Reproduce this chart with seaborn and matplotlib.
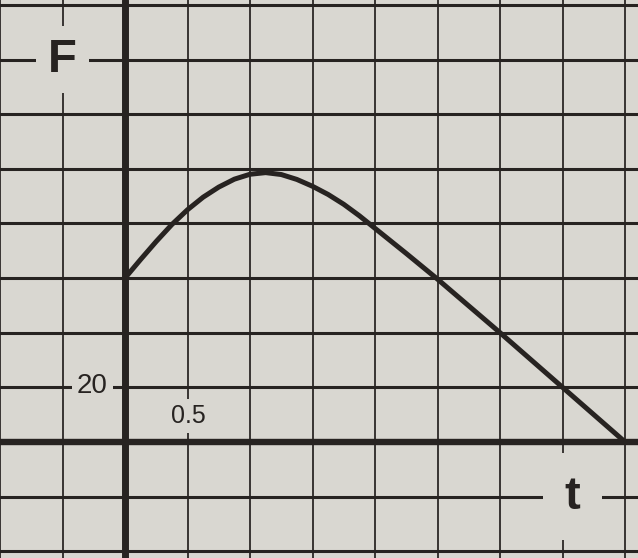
import numpy as np
import pandas as pd
import matplotlib
matplotlib.use("Agg")
import matplotlib.pyplot as plt
import seaborn as sns

# --- data ---
t_values = [0.0, 0.125, 0.25, 0.375, 0.5, 0.625, 0.75, 0.875, 1.0, 1.125, 1.25,
            1.375, 1.5, 1.625, 1.75, 1.875, 2.0, 2.25, 2.5, 2.75, 3.0, 3.25,
            3.5, 3.75, 4.0]
F_values = [60, 66.8, 73.4, 79.6, 85.0, 89.6, 93.3, 96.2, 98.0, 98.6, 97.9,
            96.1, 93.6, 90.6, 87.0, 82.8, 78.2, 69.0, 59.6, 49.8, 40.0, 30.0,
            20.0, 10.0, 0]
x_label = "F"
y_label = "t"
y_tick_label = "20"
x_tick_label = "0.5"

df = pd.DataFrame({"t": t_values, "F": F_values})

paper = "#d9d7d1"
ink = "#272321"

sns.set_style("white")
plt.rcParams["font.family"] = ["Liberation Sans", "DejaVu Sans"]

fig = plt.figure(figsize=(6.38, 5.58), dpi=100, facecolor=paper)
ax = fig.add_axes([0, 0, 1, 1])
ax.set_facecolor(paper)

ax.set_xlim(-0.99, 4.104)
ax.set_ylim(-42.5, 161.8)

ax.set_xticks(np.arange(-1.0, 4.01, 0.5))
ax.set_yticks(np.arange(-40, 161, 20))
ax.tick_params(length=0, labelbottom=False, labelleft=False)
ax.xaxis.grid(True, color=ink, lw=1.4, alpha=0.9, zorder=1)
ax.yaxis.grid(True, color=ink, lw=2.2, zorder=1)
ax.set_axisbelow(True)
for s in ax.spines.values():
    s.set_visible(False)

ax.axhline(0, color=ink, lw=4.6, zorder=2)
ax.axvline(0, color=ink, lw=5.0, zorder=2)

sns.lineplot(data=df, x="t", y="F", ax=ax, color=ink, lw=3.6, zorder=3,
             solid_capstyle="round", solid_joinstyle="round")
ax.set_xlabel("")
ax.set_ylabel("")

box = dict(boxstyle="square,pad=0.25", facecolor=paper, edgecolor="none")
ax.text(-0.5, 140, x_label, fontsize=34, fontweight="bold", color=ink,
        ha="center", va="center", zorder=4, bbox=box)
ax.text(3.58, -20, y_label, fontsize=34, fontweight="bold", color=ink,
        ha="center", va="center", zorder=4,
        bbox=dict(boxstyle="square,pad=0.45", facecolor=paper, edgecolor="none"))
ax.text(-0.26, 20.5, y_tick_label, fontsize=20, color=ink,
        ha="center", va="center", zorder=4,
        bbox=dict(boxstyle="square,pad=0.2", facecolor=paper, edgecolor="none"))
ax.text(0.51, 9.5, x_tick_label, fontsize=18, color=ink,
        ha="center", va="center", zorder=4,
        bbox=dict(boxstyle="square,pad=0.2", facecolor=paper, edgecolor="none"))

fig.savefig("out.png", dpi=100, facecolor=paper)
